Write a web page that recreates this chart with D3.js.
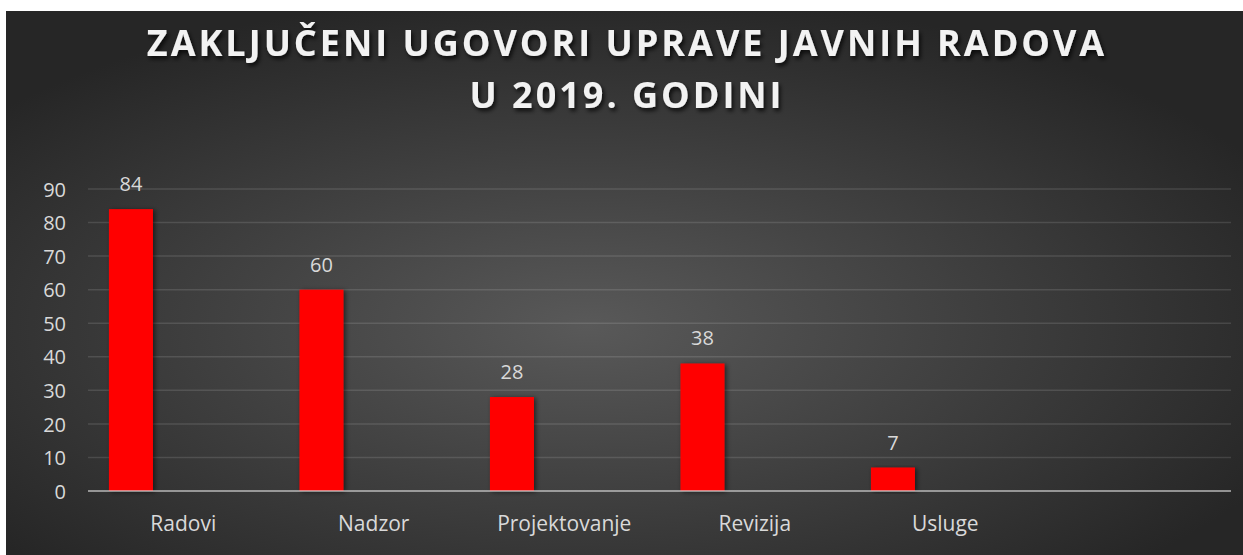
<!DOCTYPE html>
<html>
<head>
<meta charset="utf-8">
<script src="https://cdn.jsdelivr.net/npm/d3@7"></script>
<style>
  html, body { margin: 0; padding: 0; background: #ffffff; }
  svg { display: block; }
</style>
</head>
<body>
<svg id="chart" width="1243" height="555"></svg>
<script>
// ---- data ----
const titleLines = ["ZAKLJUČENI UGOVORI UPRAVE JAVNIH RADOVA", "U 2019. GODINI"];
const categories = ["Radovi", "Nadzor", "Projektovanje", "Revizija", "Usluge", ""];
const values = [84, 60, 28, 38, 7, null];
const yTicks = [0, 10, 20, 30, 40, 50, 60, 70, 80, 90];

// ---- layout ----
const W = 1243, H = 555;
const svg = d3.select("#chart");
const defs = svg.append("defs");

const grad = defs.append("radialGradient")
  .attr("id", "bg").attr("cx", "0.47").attr("cy", "0.58").attr("r", "0.62");
grad.append("stop").attr("offset", "0").attr("stop-color", "#595959");
grad.append("stop").attr("offset", "1").attr("stop-color", "#262626");

const tShadow = defs.append("filter").attr("id", "tshadow")
  .attr("x", "-5%").attr("y", "-20%").attr("width", "110%").attr("height", "150%");
tShadow.append("feDropShadow").attr("dx", 2).attr("dy", 3).attr("stdDeviation", 2)
  .attr("flood-color", "#000").attr("flood-opacity", 0.75);

const bShadow = defs.append("filter").attr("id", "bshadow")
  .attr("x", "-20%").attr("y", "-10%").attr("width", "150%").attr("height", "120%");
bShadow.append("feDropShadow").attr("dx", 2).attr("dy", 1).attr("stdDeviation", 2.5)
  .attr("flood-color", "#000").attr("flood-opacity", 0.55);

svg.append("rect").attr("x", 6).attr("y", 11).attr("width", W - 6).attr("height", H - 11)
  .attr("fill", "url(#bg)");

// title
svg.append("g").attr("filter", "url(#tshadow)")
  .selectAll("text").data(titleLines).join("text")
  .attr("x", 627).attr("y", (d, i) => 56 + i * 52)
  .attr("text-anchor", "middle")
  .attr("font-family", "'Open Sans', sans-serif")
  .attr("font-weight", 700)
  .attr("font-size", 36)
  .attr("letter-spacing", 3)
  .attr("fill", "#f2f2f2")
  .text(d => d);

const x = d3.scaleBand().domain(categories.map((c, i) => i)).range([88, 1231]);
const y = d3.scaleLinear().domain([0, 90]).range([491, 189]);

// gridlines
svg.append("g").selectAll("line").data(yTicks.filter(t => t > 0)).join("line")
  .attr("x1", 88).attr("x2", 1231)
  .attr("y1", d => y(d)).attr("y2", d => y(d))
  .attr("stroke", "#ffffff").attr("stroke-opacity", 0.12).attr("stroke-width", 1.5);

// y tick labels via axis
const yAxis = svg.append("g").attr("transform", "translate(66,0)")
  .call(d3.axisLeft(y).tickValues(yTicks).tickSize(0).tickPadding(0));
yAxis.select(".domain").remove();
yAxis.selectAll("text")
  .attr("font-family", "'Open Sans', sans-serif").attr("font-size", 20)
  .attr("fill", "#d9d9d9").attr("text-anchor", "end").attr("dy", "0.36em");

// bars
const bw = x.bandwidth();
const data = categories.map((c, i) => ({ i, c, v: values[i] })).filter(d => d.v != null);
svg.append("g").selectAll("rect").data(data).join("rect")
  .attr("x", d => x(d.i) + bw * 0.11)
  .attr("width", bw * 0.231)
  .attr("y", d => y(d.v))
  .attr("height", d => y(0) - y(d.v))
  .attr("fill", "#ff0000")
  .attr("filter", "url(#bshadow)");

// value labels
svg.append("g").selectAll("text").data(data).join("text")
  .attr("x", d => x(d.i) + bw * 0.11 + bw * 0.1155)
  .attr("y", d => y(d.v) - 18)
  .attr("text-anchor", "middle")
  .attr("font-family", "'Open Sans', sans-serif").attr("font-size", 20)
  .attr("fill", "#d9d9d9")
  .text(d => d.v);

// x axis line
svg.append("line").attr("x1", 88).attr("x2", 1231).attr("y1", y(0)).attr("y2", y(0))
  .attr("stroke", "#d9d9d9").attr("stroke-opacity", 0.6).attr("stroke-width", 2);

// category labels via axis
const xAxis = svg.append("g").attr("transform", `translate(0,${y(0)})`)
  .call(d3.axisBottom(x).tickFormat(i => categories[i]).tickSize(0).tickPadding(0));
xAxis.select(".domain").remove();
xAxis.selectAll("text")
  .attr("font-family", "'Open Sans', sans-serif").attr("font-size", 21)
  .attr("fill", "#d9d9d9").attr("dy", null).attr("y", 40);
</script>
</body>
</html>
